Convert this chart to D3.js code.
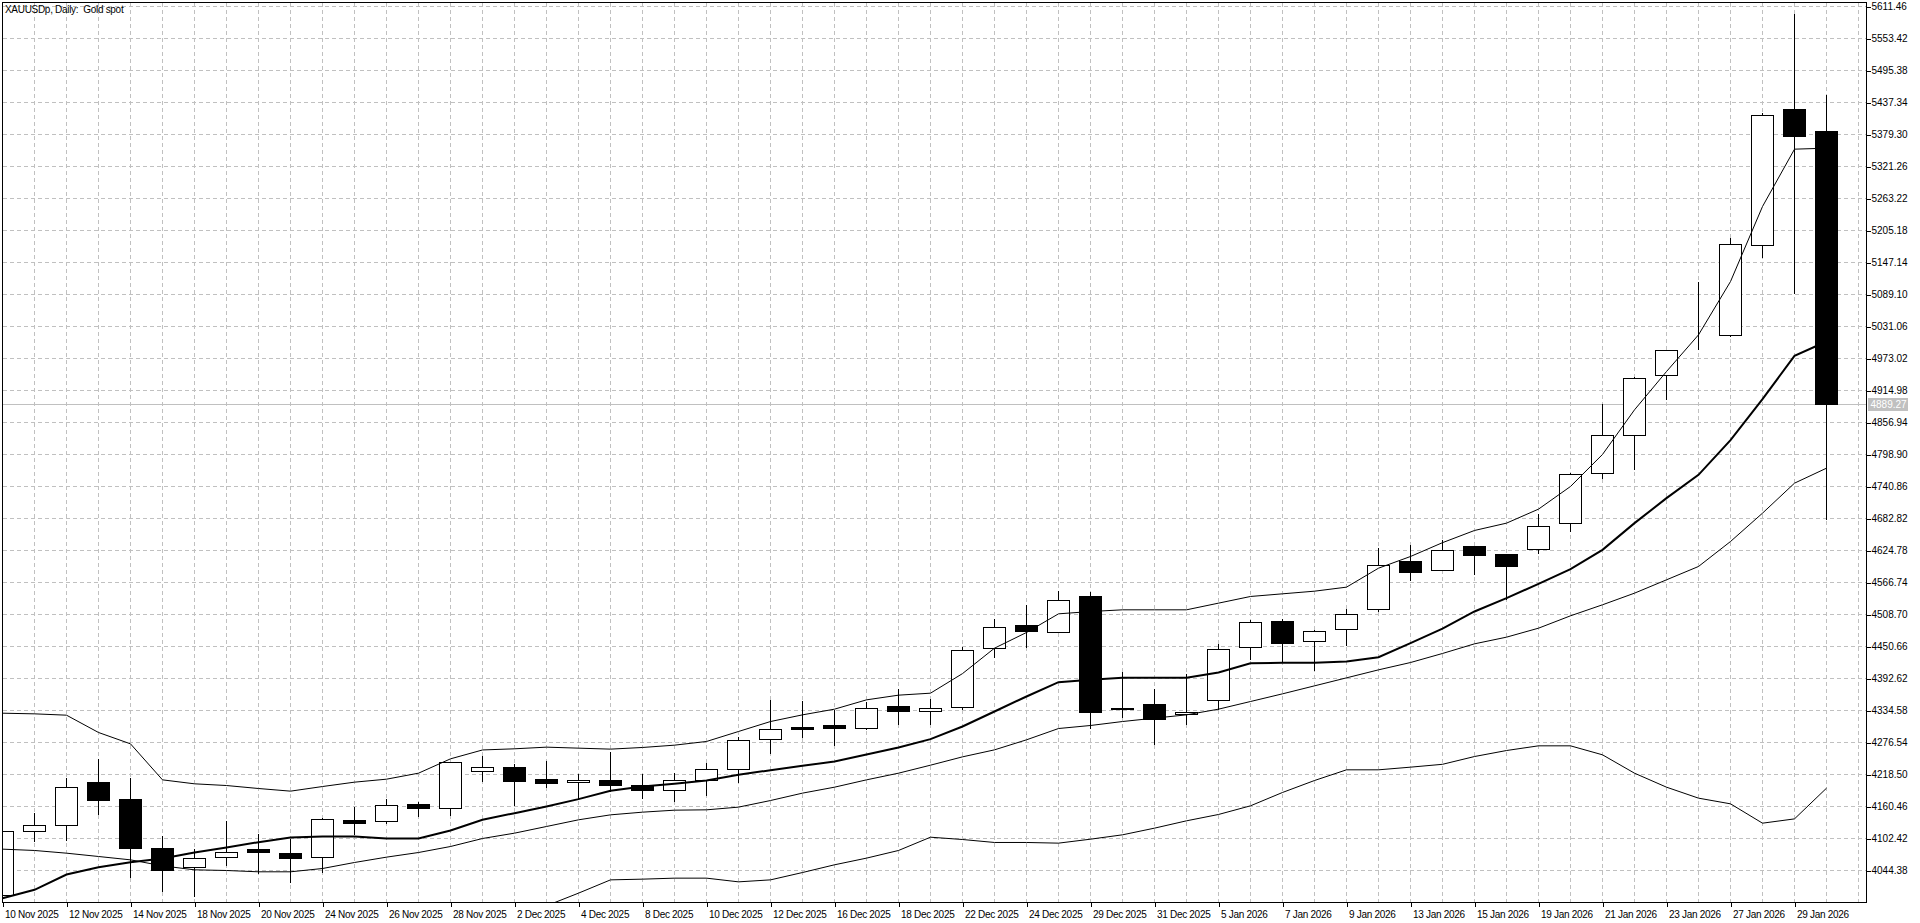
<!DOCTYPE html>
<html><head><meta charset="utf-8">
<script src="https://cdn.jsdelivr.net/npm/d3@7"></script>
<style>
html,body{margin:0;padding:0;background:#fff;overflow:hidden}
svg{display:block}
text{font-family:"Liberation Sans",Arial,sans-serif;font-size:10px;fill:#000}
</style></head><body>
<svg id="chart" width="1920" height="923"></svg>
<script>
const title = "XAUUSDp, Daily:  Gold spot";
const dates = ["10 Nov 2025","11 Nov 2025","12 Nov 2025","13 Nov 2025","14 Nov 2025","17 Nov 2025","18 Nov 2025","19 Nov 2025","20 Nov 2025","21 Nov 2025","24 Nov 2025","25 Nov 2025","26 Nov 2025","27 Nov 2025","28 Nov 2025","1 Dec 2025","2 Dec 2025","3 Dec 2025","4 Dec 2025","5 Dec 2025","8 Dec 2025","9 Dec 2025","10 Dec 2025","11 Dec 2025","12 Dec 2025","15 Dec 2025","16 Dec 2025","17 Dec 2025","18 Dec 2025","19 Dec 2025","22 Dec 2025","23 Dec 2025","24 Dec 2025","26 Dec 2025","29 Dec 2025","30 Dec 2025","31 Dec 2025","2 Jan 2026","5 Jan 2026","6 Jan 2026","7 Jan 2026","8 Jan 2026","9 Jan 2026","12 Jan 2026","13 Jan 2026","14 Jan 2026","15 Jan 2026","16 Jan 2026","19 Jan 2026","20 Jan 2026","21 Jan 2026","22 Jan 2026","23 Jan 2026","26 Jan 2026","27 Jan 2026","28 Jan 2026","29 Jan 2026","30 Jan 2026"];
const open  = [3999,4115.7,4126,4203.4,4172.5,4083.7,4050.4,4068.6,4081.9,4075.8,4068.6,4134.5,4133.9,4164.7,4156.8,4224.6,4231.8,4208.8,4204,4208.2,4197.9,4189.5,4207,4228.2,4282.6,4303.1,4306.8,4302.5,4341.2,4333.4,4340.6,4447.6,4488.1,4476.1,4540.8,4338.8,4344.9,4327.9,4353.3,4449.5,4496.6,4460.3,4482.1,4518.4,4605.5,4589.1,4632.6,4618.1,4627.2,4674.4,4765.1,4832.8,4942.8,5012,5015.4,5178.6,5424.1,5385.4];
const high  = [4117,4150.2,4212.5,4246.9,4212.5,4107.3,4084.3,4135.1,4110.9,4102.4,4141.1,4159.9,4174.4,4168.9,4241.5,4253.2,4237.8,4243.9,4219.7,4259.6,4219.7,4222.7,4240.3,4287.4,4355.1,4352.7,4337,4350.9,4375.1,4357,4450.7,4500.8,4526.2,4552.3,4550.4,4404.7,4373.9,4402.3,4456.7,4499,4501.5,4480.9,4519.6,4630.8,4635.1,4644.1,4632.6,4620,4691.3,4766.9,4890.8,4940.4,4990,5112.7,5192.5,5419.2,5598.2,5451.3];
const low   = [3996,4096.4,4099.4,4145.9,4031.7,4005.7,3997.2,4054,4039.5,4022.6,4040.8,4109.7,4129.6,4141.7,4144.1,4205.2,4162.9,4194.3,4172.6,4188.3,4174.4,4168.9,4181,4203.4,4256,4285.6,4271.1,4300.1,4309.2,4309.2,4335.8,4430.7,4448.8,4476.1,4301.9,4322.5,4272.3,4309.2,4335.8,4426.5,4421.6,4407.1,4451.9,4513.6,4570.4,4589.1,4581.2,4536.5,4618.7,4659.2,4756,4771.1,4898.1,4988.8,5013,5156.2,5090.3,4680.4];
const close = [4115.7,4126.6,4195.5,4171.3,4084.3,4044.4,4066.7,4077.6,4077,4066.1,4136.3,4129.6,4162.9,4156.8,4240.9,4231.8,4205.8,4202.2,4208.2,4198.5,4189.5,4208.2,4228.2,4280.8,4300.7,4300.1,4302,4338.8,4332.8,4338.8,4443.7,4485.7,4477.9,4533.5,4331,4336.4,4317.7,4331.6,4445.8,4494.8,4456.1,4478.5,4509.3,4598.2,4585.5,4625.4,4615.7,4595.8,4668.9,4763.3,4832.8,4937.4,4988.2,5010.5,5180.4,5414.4,5375.7,4889.27];
const upperLine  = [4329.7,4328.5,4326.1,4294.7,4274.1,4208.8,4201.6,4198.5,4193.1,4188.3,4196.7,4204.6,4210,4220.9,4246.9,4263,4265.1,4268.1,4266.3,4264.5,4267.5,4271.7,4278.4,4296.5,4314.6,4326.7,4337,4353.9,4362.4,4366,4401.5,4447.6,4476.1,4509.9,4514.1,4517.2,4517.2,4517.2,4529.3,4541.4,4546.2,4551,4558.3,4592.7,4613.9,4639,4661.1,4674.4,4699.8,4740.9,4799,4879.9,4949.4,5015.9,5112.6,5248.7,5352.7,5354.5];
const middleLine = [3994.2,4009.3,4037.1,4050.4,4059.5,4066.1,4077,4086.1,4095.8,4104.2,4106,4106,4102.4,4102.4,4116.9,4136.3,4148.4,4160.5,4173.8,4188.9,4196.7,4201.6,4207.6,4217.9,4226.4,4234.2,4242.1,4254.8,4267.5,4282.6,4305.6,4332.8,4360,4386,4390.2,4393.8,4393.8,4393.8,4403.5,4420.4,4421,4421,4423.5,4431.3,4456.7,4483,4514.2,4538.3,4564.3,4591,4626,4674.4,4719.7,4762,4825,4899.3,4977.9,5003.9];
const slowLine   = [4083.1,4080.7,4075.8,4069.8,4063.7,4052.8,4045.6,4044.4,4042,4042,4048,4058.9,4068.6,4077,4087.9,4102.4,4112.1,4124.2,4136.3,4145.3,4150.2,4153.8,4154.4,4159.3,4171.3,4184.7,4195.5,4208.8,4220.9,4235.4,4250.5,4263.2,4281.4,4301.9,4307.4,4314.6,4320.7,4326.7,4337,4350.9,4364.8,4379.3,4393.8,4408.3,4421.6,4438,4455.5,4467.6,4483.9,4506.3,4526.3,4547.4,4571.6,4595.8,4641.1,4692.5,4746.9,4774.1];
const lowerLine  = [null,null,null,null,null,null,null,null,null,null,null,null,null,null,null,null,null,3980.4,4003.3,4027.4,4028.7,4030.5,4030.5,4023.8,4027.4,4040.7,4054.7,4066.8,4080.7,4104.8,4100.6,4095.2,4095.2,4094,4101.2,4109.1,4121.2,4134.5,4146,4161.7,4185.9,4207.6,4227,4227,4231.8,4237,4251.1,4262,4270.5,4270.5,4254.2,4220.9,4195.5,4175.6,4165.3,4130.2,4138,4193.7];
const priceTicks = [4044.38,4102.42,4160.46,4218.50,4276.54,4334.58,4392.62,4450.66,4508.70,4566.74,4624.78,4682.82,4740.86,4798.90,4856.94,4914.98,4973.02,5031.06,5089.10,5147.14,5205.18,5263.22,5321.26,5379.30,5437.34,5495.38,5553.42,5611.46];
const lastPrice = 4889.27;

const L = 2.5, T = 2.5, R = 1866.5, B = 902.5, STEP = 32, BODY = 22;
const FONT = '"Liberation Sans",Arial,sans-serif';
const svg = d3.select("#chart");
const x = d3.scaleLinear().domain([0, 1]).range([L, L + STEP]);
const y = d3.scaleLinear().domain([priceTicks[0], priceTicks[priceTicks.length - 1]]).range([870.5, 6.5]);
const py = v => Math.round(y(v) - 0.5) + 0.5;

svg.append("defs").append("clipPath").attr("id", "plot")
  .append("rect").attr("x", L).attr("y", T).attr("width", R - L).attr("height", B - T);

const grid = svg.append("g").attr("stroke", "#c0c0c0").attr("stroke-dasharray", "4,3").attr("shape-rendering", "crispEdges");
grid.selectAll("line.h").data(priceTicks).join("line").attr("class", "h")
  .attr("x1", L).attr("x2", R).attr("y1", d => py(d)).attr("y2", d => py(d));
const vIdx = d3.range(1, 70).filter(i => x(i) < R - 1);
grid.selectAll("line.v").data(vIdx).join("line").attr("class", "v")
  .attr("x1", d => x(d)).attr("x2", d => x(d)).attr("y1", T).attr("y2", B);

const plot = svg.append("g").attr("clip-path", "url(#plot)");
plot.append("line").attr("x1", L).attr("x2", R).attr("y1", py(lastPrice)).attr("y2", py(lastPrice))
  .attr("stroke", "#c0c0c0").attr("shape-rendering", "crispEdges");

const idx = d3.range(dates.length);
const cg = plot.append("g").attr("shape-rendering", "crispEdges");
cg.selectAll("line.w").data(idx).join("line").attr("class", "w")
  .attr("x1", i => x(i)).attr("x2", i => x(i))
  .attr("y1", i => py(high[i])).attr("y2", i => py(low[i])).attr("stroke", "#000");
cg.selectAll("rect.b").data(idx).join("rect").attr("class", "b")
  .attr("x", i => x(i) - BODY / 2).attr("width", BODY)
  .attr("y", i => py(Math.max(open[i], close[i])))
  .attr("height", i => Math.max(0, py(Math.min(open[i], close[i])) - py(Math.max(open[i], close[i]))))
  .attr("fill", i => close[i] < open[i] ? "#000" : "#fff").attr("stroke", "#000");

function drawLine(arr, w) {
  plot.append("path").datum(idx)
    .attr("d", d3.line().defined(i => arr[i] != null).x(i => x(i)).y(i => y(arr[i])))
    .attr("fill", "none").attr("stroke", "#000").attr("stroke-width", w);
}
drawLine(upperLine, 1);
drawLine(slowLine, 1);
drawLine(lowerLine, 1);
drawLine(middleLine, 2);

svg.append("rect").attr("x", L).attr("y", T).attr("width", R - L).attr("height", B - T)
  .attr("fill", "none").attr("stroke", "#000").attr("shape-rendering", "crispEdges");

const yAxis = svg.append("g").attr("transform", `translate(${R},0)`)
  .call(d3.axisRight(y).tickValues(priceTicks).tickSize(4).tickPadding(1).tickFormat(d3.format(".2f")));
yAxis.select(".domain").remove();
yAxis.selectAll(".tick line").attr("shape-rendering", "crispEdges");
yAxis.selectAll("text").style("font-family", FONT).style("font-size", "10px");

const xAxis = svg.append("g").attr("transform", `translate(0,${B})`)
  .call(d3.axisBottom(x).tickValues(idx.filter(i => i % 2 === 0)).tickSize(4).tickFormat(i => dates[i]));
xAxis.select(".domain").remove();
xAxis.selectAll(".tick line").attr("shape-rendering", "crispEdges");
xAxis.selectAll("text").attr("text-anchor", "start").attr("x", 2).attr("y", 15.5).attr("dy", 0)
  .style("font-family", FONT).style("font-size", "10px").style("letter-spacing", "-0.3px");

const lp = py(lastPrice);
svg.append("rect").attr("x", R + 1.5).attr("y", lp - 6.5).attr("width", 40).attr("height", 13).attr("fill", "#c0c0c0");
svg.append("text").attr("x", R + 4).attr("y", lp).attr("dy", "0.34em").style("fill", "#fff").text(lastPrice.toFixed(2));

svg.append("text").attr("x", 5).attr("y", 13).style("white-space", "pre").style("letter-spacing", "-0.3px").text(title);
</script>
</body></html>
